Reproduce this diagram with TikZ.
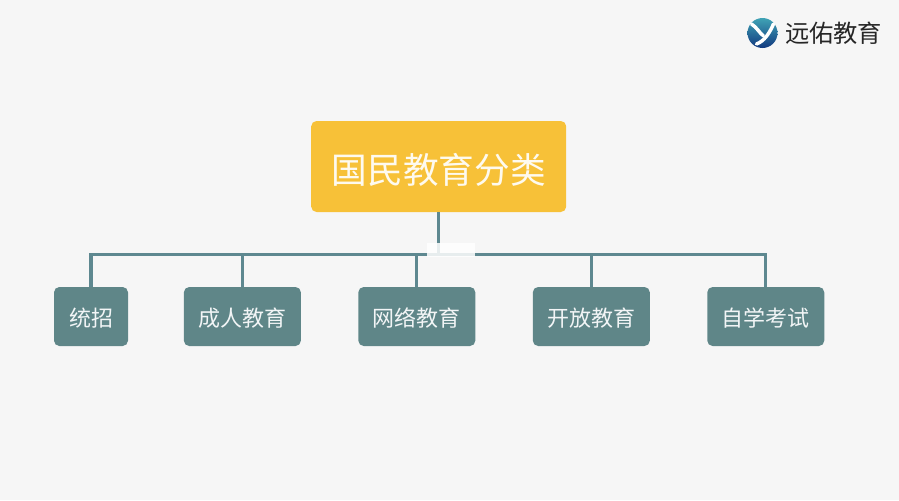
\documentclass[tikz,border=0pt]{standalone}
\usepackage{fontspec}
\usepackage{tikz}
\usetikzlibrary{positioning, calc}
\setmainfont{Noto Sans CJK SC}
\definecolor{pagegray}{HTML}{F6F6F6}
\definecolor{rootyellow}{HTML}{F7C138}
\definecolor{kidteal}{HTML}{5F8688}
\definecolor{linkteal}{HTML}{5E8890}
\definecolor{logoteal}{HTML}{3FA3B5}
\definecolor{logoblue}{HTML}{12397F}
\tikzstyle{rootbox}=[rectangle,rounded corners=4pt,fill=rootyellow,text=white!92!rootyellow,inner sep=0pt,minimum width=191.25pt,minimum height=68.25pt,text height=26pt,text depth=1pt,font=\fontsize{26.75pt}{30pt}\selectfont]
\tikzstyle{kidbox}=[rectangle,rounded corners=4pt,fill=kidteal,text=white!92!kidteal,inner sep=0pt,minimum width=87.75pt,minimum height=44.25pt,text height=16.5pt,text depth=.9pt,font=\fontsize{16.5pt}{20pt}\selectfont]
\tikzstyle{edgepath}=[line width=2.4pt,draw=linkteal]
\tikzstyle{logoswoosh}=[white,line width=2.6pt,line cap=round]

\begin{document}
\begin{tikzpicture}[x=0.75pt,y=0.75pt,node distance=42.7pt]
        \useasboundingbox (0,0) rectangle (899,-500);
        \fill[pagegray] (0,0) rectangle (899,-500);

        \node[rootbox] (x0) at (438.7,-166.5) {国民教育分类};
        \coordinate[below=31.5pt of x0] (bus);

        \node[kidbox, minimum width=55.5pt] (x1) at (91,-316.5) {统招};
        \node[kidbox, right =41.5pt of x1] (x2) {成人教育};
        \node[kidbox, right =of x2] (x3) {网络教育};
        \node[kidbox, right =of x3] (x4) {开放教育};
        \node[kidbox, right =of x4] (x5) {自学考试};

        \draw[edgepath] (x0) -- (bus);
        \draw[edgepath] (x1) |- (bus);
        \draw[edgepath] (x2) |- (bus);
        \draw[edgepath] (x3) |- (bus);
        \draw[edgepath] (x4) |- (bus);
        \draw[edgepath] (x5) |- (bus);

        % white smudge over the line
        \fill[white,opacity=.85] (427,-243) rectangle (475,-257);

        % logo
        \node[circle,minimum size=22.5pt,inner sep=0pt,top color=logoteal,bottom color=logoblue] (logo) at (762.5,-33) {};
        \draw[logoswoosh] ($(logo)+(-11,9)$) .. controls ($(logo)+(-6,6)$) and ($(logo)+(-3,0)$) .. ($(logo)+(1,-3)$);
        \draw[logoswoosh] ($(logo)+(11,9)$) .. controls ($(logo)+(7,0)$) and ($(logo)+(2,-8)$) .. ($(logo)+(-6,-11)$);
        \node[right=2pt of logo, text=black!85, font=\fontsize{18.2pt}{20pt}\selectfont] (brand) {远佑教育};
    \end{tikzpicture}
\end{document}
